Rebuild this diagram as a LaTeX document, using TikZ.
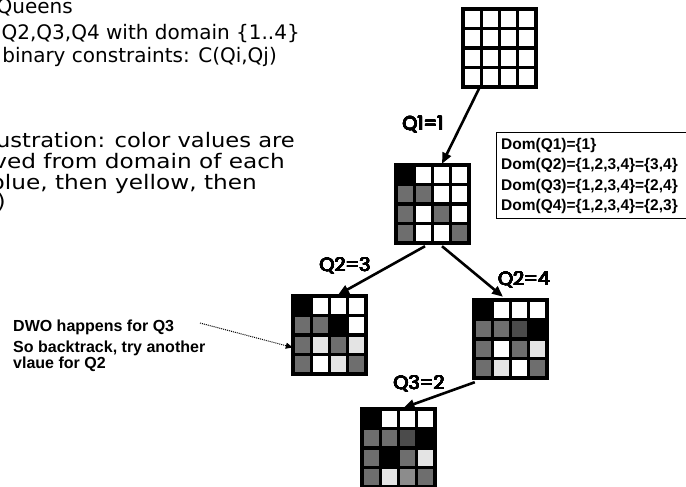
\documentclass[tikz,border=0pt]{standalone}
\usepackage{fontspec}
\usepackage{contour}
\contourlength{0.45pt}
\contournumber{20}
\setmainfont{Liberation Sans}
\newfontfamily\dejavu{DejaVu Sans}
\newfontfamily\qfont{Poppins}
\usetikzlibrary{arrows.meta,calc}
\definecolor{qgray}{RGB}{110,110,110}
\definecolor{qdark}{RGB}{75,75,75}
\definecolor{qlight}{RGB}{228,228,228}
\definecolor{qmid}{RGB}{140,140,140}
\tikzset{
  cellline/.style={line width=3.3pt, line cap=rect},
  gridnode/.style={draw=none, minimum width=73pt, minimum height=78pt, inner sep=0pt},
  conn/.style={line width=2.6pt, -{Triangle[length=11pt,width=9pt]}},
  dotconn/.style={line width=1pt, densely dotted, -{Triangle[length=7pt,width=6pt]}},
  qlabel/.style={font=\qfont\fontsize{19}{19}\selectfont, inner sep=0pt},
  domtext/.style={font=\bfseries\fontsize{15.5}{18}\selectfont, anchor=base west, inner sep=0pt},
  notetext/.style={font=\bfseries\fontsize{16}{18}\selectfont, anchor=base west, inner sep=0pt},
  introtext/.style={font=\dejavu\fontsize{20}{24}\selectfont, anchor=base east, inner sep=0pt},
  dombox/.style={draw, line width=1pt, minimum width=190pt, minimum height=86pt, anchor=north west, inner sep=0pt},
}
\newcommand\quegrid[4]{% name, left x, top y, 16 colours
  \node[gridnode] (#1) at ({#2+36.5},{#3+39}) {};
  \foreach \cl [count=\i from 0] in {#4} {
    \pgfmathtruncatemacro\rr{\i/4}
    \pgfmathtruncatemacro\cc{mod(\i,4)}
    \fill[\cl] ({#2+\cc*18.25},{#3+\rr*19.5}) rectangle ++(18.25,19.5);
  }
  \foreach \k in {0,...,4} {
    \draw[cellline] ({#2+\k*18.25},#3) -- ++(0,78);
    \draw[cellline] (#2,{#3+\k*19.5}) -- ++(73,0);
  }
}
\begin{document}
\begin{tikzpicture}[x=1pt,y=-1pt]
\useasboundingbox (0,0) rectangle (686,487);
\fill[white] (0,0) rectangle (686,487);

% intro text (cut at left edge)
\node[introtext] (t1) at (73,14) {Queens};
\node[introtext] (t2) at (300,40) {Q2,Q3,Q4 with domain \{1..4\}};
\node[introtext] (t3) at (277,63) {binary constraints: C(Qi,Qj)};
\node[introtext] (t4) at (295,147) {\scalebox{1.13}[1]{ustration: color values are}};
\node[introtext] (t5) at (285,168) {\scalebox{1.16}[1]{ved from domain of each}};
\node[introtext] (t6) at (257,189) {\scalebox{1.16}[1]{blue, then yellow, then}};
\node[introtext] (t7) at (6,208) {\scalebox{1.13}[1]{)}};

% grids
\quegrid{g1}{463}{9}{white,white,white,white,white,white,white,white,white,white,white,white,white,white,white,white}
\quegrid{g2}{396}{165}{black,white,white,white,qgray,qgray,white,white,qgray,white,qgray,white,qgray,white,white,qgray}
\quegrid{g3}{293}{296}{black,white,white,white,qgray,qgray,black,white,qgray,qlight,qgray,qlight,qgray,white,qlight,qgray}
\quegrid{g4}{474}{300}{black,white,white,white,qgray,qgray,qdark,black,qgray,white,qgray,qlight,qgray,qlight,white,qgray}
\quegrid{g5}{362}{409}{black,white,white,white,qgray,qgray,qdark,black,qgray,black,qgray,qlight,qgray,qlight,qmid,qgray}

% connectors
\draw[conn] ([xshift=-20.5pt,yshift=-1.5pt]g1.south) -- ([xshift=9.5pt,yshift=1pt]g2.north);
\draw[conn] ([xshift=-7.5pt,yshift=-3pt]g2.south) -- ([xshift=8.5pt,yshift=1pt]g3.north);
\draw[conn] ([xshift=9.5pt,yshift=-3pt]g2.south) -- ([xshift=-7.5pt,yshift=3pt]g4.north);
\draw[conn] ([xshift=1pt,yshift=-4pt]g4.south west) -- ([xshift=5pt,yshift=1pt]g5.north);

% labels
\node[qlabel] (l1) at (423,125) {\contour{black}{Q1=1}};
\node[qlabel] (l2) at (345,266) {\contour{black}{Q2=3}};
\node[qlabel] (l3) at (524,280) {\contour{black}{Q2=4}};
\node[qlabel] (l4) at (419,384) {\contour{black}{Q3=2}};

% domain box
\node[dombox] (dom) at (495.5,132) {};
\node[domtext] (d1) at (501,149) {Dom(Q1)=\{1\}};
\node[domtext] (d2) at (501,169.5) {Dom(Q2)=\{1,2,3,4\}=\{3,4\}};
\node[domtext] (d3) at (501,190) {Dom(Q3)=\{1,2,3,4\}=\{2,4\}};
\node[domtext] (d4) at (501,210.5) {Dom(Q4)=\{1,2,3,4\}=\{2,3\}};

% DWO note
\node[notetext] (n1) at (13,331) {DWO happens for Q3};
\node[notetext] (n2) at (13,352) {So backtrack, try another};
\node[notetext] (n3) at (13,368) {vlaue for Q2};
\coordinate (dwo) at (200,323);
\draw[dotconn] (dwo) -- ([yshift=-12.5pt]g3.west);
\end{tikzpicture}
\end{document}
